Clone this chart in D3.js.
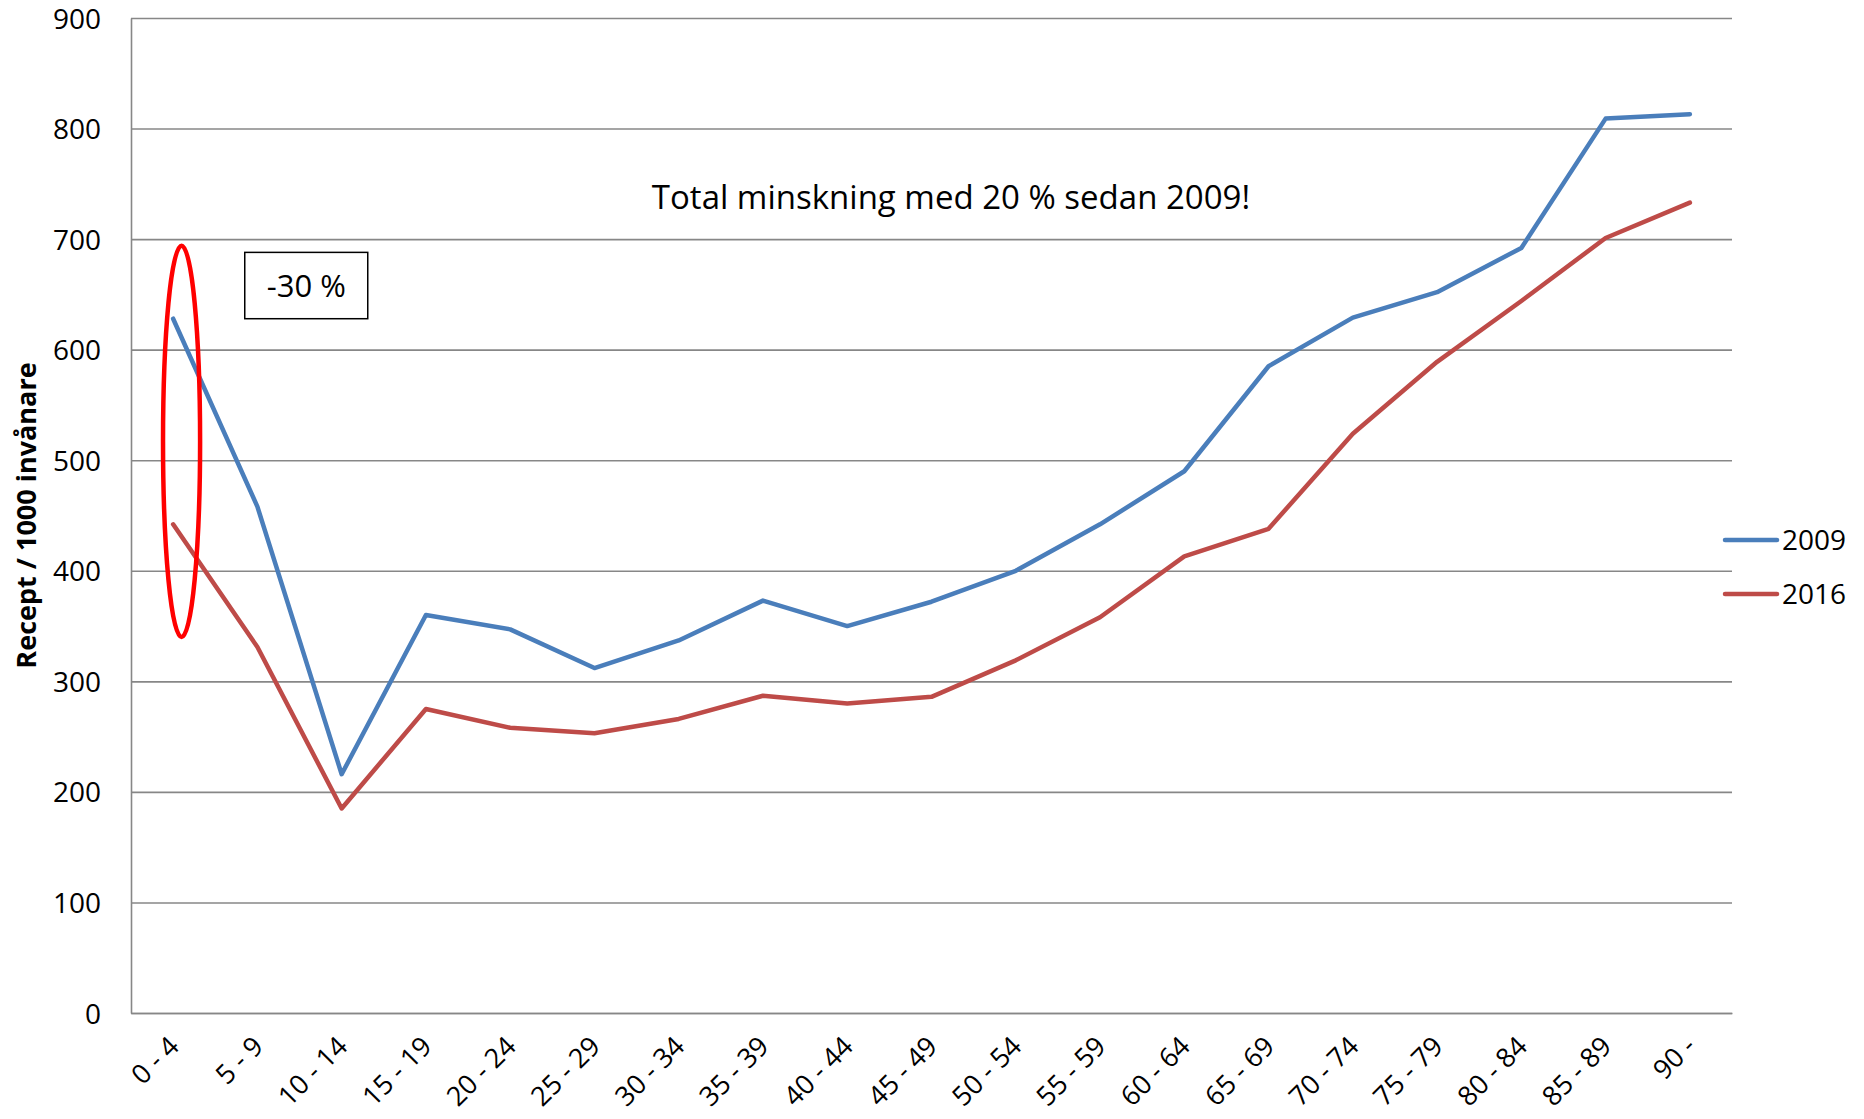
<!DOCTYPE html>
<html>
<head>
<meta charset="utf-8">
<script src="https://cdn.jsdelivr.net/npm/d3@7"></script>
<style>
  body { margin: 0; background: #fff; }
  text { font-family: "Open Sans", "Liberation Sans", sans-serif; fill: #000; }
</style>
</head>
<body>
<div id="chart"></div>
<script>
var ageGroups = ["0 - 4", "5 - 9", "10 - 14", "15 - 19", "20 - 24", "25 - 29", "30 - 34", "35 - 39", "40 - 44", "45 - 49", "50 - 54", "55 - 59", "60 - 64", "65 - 69", "70 - 74", "75 - 79", "80 - 84", "85 - 89", "90 -"];
var values2009 = [628, 458, 216, 360, 347, 312, 337, 373, 350, 372, 400, 442, 490, 585, 629, 652, 692, 809, 813];
var values2016 = [442, 331, 185, 275, 258, 253, 266, 287, 280, 286, 319, 358, 413, 438, 524, 589, 644, 701, 733];
var yTicks = [0, 100, 200, 300, 400, 500, 600, 700, 800, 900];
var seriesNames = ["2009", "2016"];
var seriesColors = ["#4a7ebb", "#be4b48"];

var margin = {top: 18, right: 132, bottom: 106, left: 131},
	width = 1864 - margin.left - margin.right,
	height = 1119 - margin.top - margin.bottom;

var x = d3.scalePoint()
	.domain(ageGroups)
	.range([0, width])
	.padding(0.5);
var y = d3.scaleLinear()
	.domain([0, 900])
	.range([height, 0]);

var svg = d3.select("#chart").append("svg")
	.attr("width", 1864)
	.attr("height", 1119)
.append("g")
	.attr("transform", "translate(" + margin.left + "," + margin.top + ")");

// gridlines
svg.append("g")
	.call(d3.axisLeft(y).tickValues(yTicks).tickSize(-width).tickFormat(""))
	.call(function(g){
		g.select(".domain").remove();
		g.selectAll("line").attr("stroke", "#878787").attr("stroke-width", 1.6);
	});

// y axis
svg.append("g")
	.call(d3.axisLeft(y).tickValues(yTicks).tickSize(0).tickPadding(30))
	.call(function(g){
		g.select(".domain").attr("stroke", "#878787").attr("stroke-width", 1.6);
		g.selectAll("text").style("font-size", "28px").attr("dy", "0.36em");
	});

// x axis
svg.append("g")
	.attr("transform", "translate(0," + height + ")")
	.call(d3.axisBottom(x).tickSize(0).tickPadding(0))
	.call(function(g){
		g.select(".domain").attr("stroke", "#878787").attr("stroke-width", 1.6);
		g.selectAll("text")
			.style("font-size", "27px")
			.attr("text-anchor", "end")
			.attr("y", 0)
			.attr("dy", 0)
			.attr("transform", "translate(7,35) rotate(-45)");
	});

// y axis title
svg.append("text")
	.attr("transform", "translate(" + (27 - margin.left) + "," + (height / 2 - 0) + ") rotate(-90)")
	.attr("text-anchor", "middle")
	.attr("dy", "0.35em")
	.style("font-size", "27px")
	.style("font-weight", "bold")
	.text("Recept / 1000 invånare");

// lines
var series = [values2009, values2016];
var line = d3.line()
	.x(function(d, i){ return x(ageGroups[i]); })
	.y(function(d){ return y(d); });

series.forEach(function(vals, k){
	svg.append("path")
		.datum(vals)
		.attr("fill", "none")
		.attr("stroke", seriesColors[k])
		.attr("stroke-width", 4.5)
		.attr("stroke-linejoin", "round")
		.attr("stroke-linecap", "round")
		.attr("d", line);
});

// annotation ellipse round the first age group
var step = x.step();
svg.append("ellipse")
	.attr("cx", x(ageGroups[0]) + step * 0.1)
	.attr("cy", y((694 + 340) / 2))
	.attr("rx", step * 0.22)
	.attr("ry", (y(340) - y(694)) / 2)
	.attr("fill", "none")
	.attr("stroke", "#ff0000")
	.attr("stroke-width", 4.5);

// -30 % box
var bx0 = x(ageGroups[1]) - step * 0.15, bx1 = bx0 + 123;
svg.append("rect")
	.attr("x", bx0)
	.attr("y", y(688))
	.attr("width", bx1 - bx0)
	.attr("height", y(628) - y(688))
	.attr("fill", "#fff")
	.attr("stroke", "#000")
	.attr("stroke-width", 1.5);
svg.append("text")
	.attr("x", (bx0 + bx1) / 2)
	.attr("y", y(658))
	.attr("dy", "0.36em")
	.attr("text-anchor", "middle")
	.style("font-size", "31px")
	.text("-30 %");

// headline note
svg.append("text")
	.attr("x", 951 - margin.left)
	.attr("y", y(738))
	.attr("dy", "0.36em")
	.attr("text-anchor", "middle")
	.style("font-size", "33px")
	.text("Total minskning med 20 % sedan 2009!");

// legend
var legend = svg.append("g")
	.attr("transform", "translate(" + (width - 7) + ",0)");
seriesNames.forEach(function(name, k){
	var ly = 522 + k * 54;
	legend.append("line")
		.attr("x1", 0).attr("x2", 52)
		.attr("y1", ly).attr("y2", ly)
		.attr("stroke", seriesColors[k])
		.attr("stroke-width", 4.5)
		.attr("stroke-linecap", "round");
	legend.append("text")
		.attr("x", 57)
		.attr("y", ly)
		.attr("dy", "0.36em")
		.style("font-size", "28px")
		.text(name);
});
</script>
</body>
</html>
